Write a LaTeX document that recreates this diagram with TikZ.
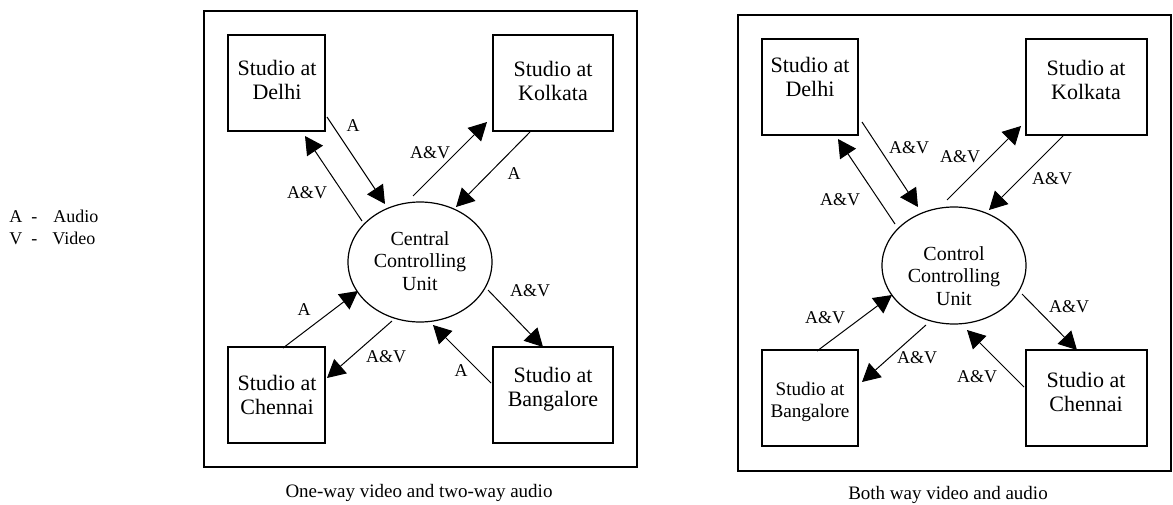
\documentclass[tikz,border=0pt]{standalone}
\usepackage{fontspec}
\setmainfont{Liberation Serif}
\usetikzlibrary{arrows.meta,shapes.geometric}

\tikzset{
  studio/.style={draw, line width=0.6pt, inner sep=0pt},
  unit/.style={draw, ellipse, line width=0.6pt, inner sep=0pt, minimum width=72pt},
  link/.style={line width=0.5pt, -{Triangle[length=9pt,width=9.5pt]}},
  lbl/.style={font=\fontsize{9}{10}\selectfont, inner sep=0pt},
  stxt/.style={align=center, inner sep=0pt, font=\fontsize{11}{12}\selectfont},
  utxt/.style={align=center, inner sep=0pt, font=\fontsize{10}{11.25}\selectfont},
  capt/.style={inner sep=0pt, font=\fontsize{9.5}{11}\selectfont},
}

\begin{document}
\begin{tikzpicture}[x=0.5pt,y=-0.5pt]
\useasboundingbox (0,0) rectangle (1173,504);

% legend
\node[lbl, anchor=base west] (ka) at (9,222) {A};
\node[lbl, anchor=base west] (kad) at (31,222) {-};
\node[lbl, anchor=base west] (kaw) at (53,222) {Audio};
\node[lbl, anchor=base west] (kv) at (9,244) {V};
\node[lbl, anchor=base west] (kvd) at (31,244) {-};
\node[lbl, anchor=base west] (kvw) at (52,244) {Video};

%%%% one-way video, two-way audio
\draw[line width=0.6pt] (204,11) rectangle (637,467);

\node[studio, minimum width=48.5pt, minimum height=48pt] (del1) at (276.5,83) {};
\node[studio, minimum width=60pt, minimum height=48pt] (kol1) at (553,83) {};
\node[studio, minimum width=48.5pt, minimum height=48pt] (che1) at (276.5,395) {};
\node[studio, minimum width=60pt, minimum height=48pt] (ban1) at (553,395) {};
\node[unit, minimum height=60pt] (ccu1) at (420,262) {};

\node[stxt] (tdel1) at (277,80) {Studio at\\Delhi};
\node[stxt] (tkol1) at (553,81) {Studio at\\Kolkata};
\node[stxt] (tche1) at (277,395) {Studio at\\Chennai};
\node[stxt] (tban1) at (553,389) {Studio at\\Bangalore};
\node[utxt] (tccu1) at (420,261) {Central\\Controlling\\Unit};

\coordinate (p1) at (327,117); \coordinate (q1) at (385,204);
\coordinate (p2) at (362,221); \coordinate (q2) at (305,136);
\coordinate (p3) at (413,196); \coordinate (q3) at (487,122);
\coordinate (p4) at (530,132); \coordinate (q4) at (456,207);
\coordinate (p5) at (283,348); \coordinate (q5) at (358,291);
\coordinate (p6) at (392,321); \coordinate (q6) at (327,378);
\coordinate (p7) at (488,290); \coordinate (q7) at (543,347);
\coordinate (p8) at (491,383); \coordinate (q8) at (433,325);

\draw[link] (p1) -- (q1);
\draw[link] (p2) -- (q2);
\draw[link] (p3) -- (q3);
\draw[link] (p4) -- (q4);
\draw[link] (p5) -- (q5);
\draw[link] (p6) -- (q6);
\draw[link] (p7) -- (q7);
\draw[link] (p8) -- (q8);

\node[lbl] (l1) at (353,126) {A};
\node[lbl] (l2) at (307,193) {A\&V};
\node[lbl] (l3) at (430,153) {A\&V};
\node[lbl] (l4) at (514,174) {A};
\node[lbl] (l5) at (304,310) {A};
\node[lbl] (l6) at (386,357) {A\&V};
\node[lbl] (l7) at (530,291) {A\&V};
\node[lbl] (l8) at (461,371) {A};

\node[capt] (cap1) at (419,493) {One-way video and two-way audio};

%%%% both way video and audio
\draw[line width=0.6pt] (738,15) rectangle (1171,471);

\node[studio, minimum width=48pt, minimum height=48pt] (del2) at (810,87) {};
\node[studio, minimum width=60.5pt, minimum height=48pt] (kol2) at (1086.5,87) {};
\node[studio, minimum width=48pt, minimum height=48pt] (ban2) at (810,398) {};
\node[studio, minimum width=60.5pt, minimum height=48pt] (che2) at (1086.5,398) {};
\node[unit, minimum height=58.5pt] (ccu2) at (954,265.5) {};

\node[stxt] (tdel2) at (810,77) {Studio at\\Delhi};
\node[stxt] (tkol2) at (1086,80) {Studio at\\Kolkata};
\node[stxt, font=\fontsize{9.6}{11}\selectfont] (tban2) at (810,402) {Studio at\\Bangalore};
\node[stxt] (tche2) at (1086,392) {Studio at\\Chennai};
\node[utxt] (tccu2) at (954,276) {Control\\Controlling\\Unit};

\coordinate (r1) at (862,122); \coordinate (s1) at (918,207);
\coordinate (r2) at (895,224); \coordinate (s2) at (838,139);
\coordinate (r3) at (947,200); \coordinate (s3) at (1021,126);
\coordinate (r4) at (1063,136); \coordinate (s4) at (989,210);
\coordinate (r5) at (817,351); \coordinate (s5) at (892,295);
\coordinate (r6) at (926,325); \coordinate (s6) at (862,382);
\coordinate (r7) at (1022,294); \coordinate (s7) at (1077,350);
\coordinate (r8) at (1024,387); \coordinate (s8) at (967,330);

\draw[link] (r1) -- (s1);
\draw[link] (r2) -- (s2);
\draw[link] (r3) -- (s3);
\draw[link] (r4) -- (s4);
\draw[link] (r5) -- (s5);
\draw[link] (r6) -- (s6);
\draw[link] (r7) -- (s7);
\draw[link] (r8) -- (s8);

\node[lbl] (m1) at (909,148) {A\&V};
\node[lbl] (m2) at (840,200) {A\&V};
\node[lbl] (m3) at (960,157) {A\&V};
\node[lbl] (m4) at (1052,179) {A\&V};
\node[lbl] (m5) at (825,318) {A\&V};
\node[lbl] (m6) at (917,358) {A\&V};
\node[lbl] (m7) at (1069,307) {A\&V};
\node[lbl] (m8) at (977,377) {A\&V};

\node[capt] (cap2) at (948,495) {Both way video and audio};

\end{tikzpicture}
\end{document}
